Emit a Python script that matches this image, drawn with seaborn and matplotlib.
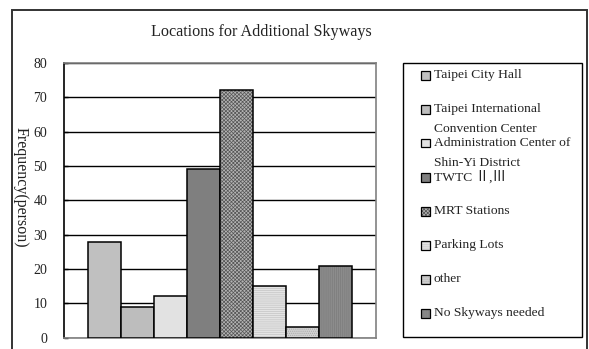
import matplotlib
matplotlib.use("Agg")
import matplotlib.pyplot as plt
from matplotlib.patches import Rectangle
import seaborn as sns
import pandas as pd

# Survey answers: where additional skyways should be built
categories = [
    "Taipei City Hall",
    "Taipei International\nConvention Center",
    "Administration Center of\nShin-Yi District",
    "TWTC \u2161,\u2162",
    "MRT Stations",
    "Parking Lots",
    "other",
    "No Skyways needed",
]
frequency = [28, 9, 12, 49, 72, 15, 3, 21]

fills = ["#c0c0c0", "#bdbdbd", "#e2e2e2", "#7f7f7f", "#b4b4b4", "#e4e4e4", "#d2d2d2", "#8c8c8c"]
hatches = [None, None, None, None, "xxxxxxxxx", "--------", "........", "||||||||"]
hatch_colors = ["k", "k", "k", "k", "#555555", "#c4c4c4", "#a8a8a8", "#7c7c7c"]

y_ticks = [0, 10, 20, 30, 40, 50, 60, 70, 80]

sns.set_theme(style="white")
plt.rcParams["font.family"] = ["Liberation Serif", "Noto Sans CJK TC", "DejaVu Sans"]
plt.rcParams["hatch.linewidth"] = 0.5

W, H = 589, 349
fig = plt.figure(figsize=(W / 100, H / 100), dpi=100)
fig.patch.set_facecolor("white")


def fx(px):
    return px / W


def fy(py):
    return 1 - py / H


# outer chart frame
fig.add_artist(Rectangle((fx(12), fy(360)), fx(587) - fx(12), fy(10) - fy(360),
                         transform=fig.transFigure, fill=False,
                         edgecolor="#333333", linewidth=1.4))

ax = fig.add_axes([fx(64), fy(337.7), fx(376) - fx(64), fy(63) - fy(337.7)])

df = pd.DataFrame({"location": categories, "freq": frequency})
sns.barplot(data=df, x="location", y="freq", hue="location", palette=fills,
            width=1.0, legend=False, saturation=1, ax=ax, zorder=3)

for bar, h, hc in zip(ax.patches, hatches, hatch_colors):
    bar.set_edgecolor("black")
    bar.set_linewidth(1.1)
    if h:
        bar.set_hatch(h)
        bar._hatch_color = matplotlib.colors.to_rgba(hc)

ax.set_xlim(-1.227, 8.227)
ax.set_ylim(0, 80)
ax.set_yticks(y_ticks)
ax.set_yticklabels([str(t) for t in y_ticks], fontsize=10)
ax.set_xticks([])
ax.set_xlabel("")
ax.set_ylabel("")
ax.yaxis.grid(True, color="black", linewidth=1.0, zorder=0)
ax.set_axisbelow(True)
ax.tick_params(axis="y", direction="in", length=3, width=1, color="black",
               pad=12, left=True, labelcolor="#222222")
for side, sp in ax.spines.items():
    sp.set_visible(True)
    sp.set_color("#808080")
    sp.set_linewidth(1.2)
ax.spines["left"].set_color("black")

fig.text(fx(21), fy(187), "Frequency(person)", rotation=270, ha="center",
         va="center", fontsize=11.5, color="#222222")

fig.text(fx(261), fy(32), "Locations for Additional Skyways", ha="center",
         va="center", fontsize=11.6, color="#222222")

# legend box drawn beside the plot
fig.add_artist(Rectangle((fx(402.7), fy(336.7)), fx(581.7) - fx(402.7),
                         fy(62.7) - fy(336.7), transform=fig.transFigure,
                         fill=False, edgecolor="black", linewidth=1.0))
for i, (lab, fc, h, hc) in enumerate(zip(categories, fills, hatches, hatch_colors)):
    y0 = 75 + 34 * i
    sq = Rectangle((fx(421), fy(y0 + 4.5)), fx(9), fx(9) * W / H,
                   transform=fig.transFigure, facecolor=fc, edgecolor="black",
                   linewidth=0.9)
    if h:
        sq.set_hatch(h)
        sq._hatch_color = matplotlib.colors.to_rgba(hc)
    fig.add_artist(sq)
    for k, line in enumerate(lab.split("\n")):
        fig.text(fx(434), fy(y0 + 20 * k), line, ha="left", va="center",
                 fontsize=9.7, color="#222222")

fig.savefig("out.png", dpi=100, facecolor="white")
